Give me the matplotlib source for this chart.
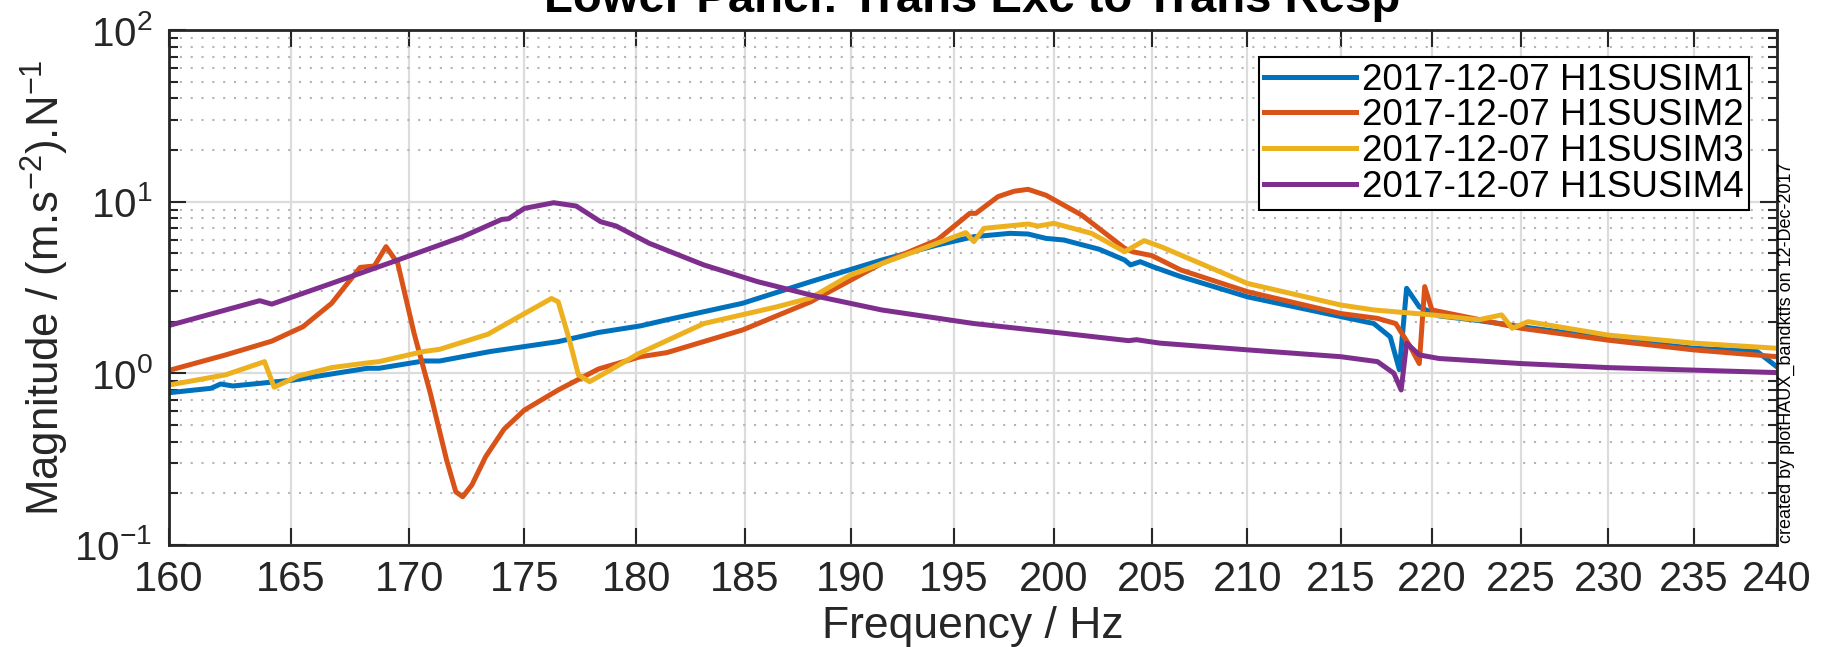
import numpy as np
import matplotlib
matplotlib.use("Agg")
import matplotlib.pyplot as plt
from matplotlib.ticker import FixedLocator, NullLocator, FuncFormatter, LogLocator

plt.rcParams['font.family'] = ['Liberation Sans', 'DejaVu Sans']
plt.rcParams['mathtext.fontset'] = 'custom'
plt.rcParams['mathtext.rm'] = 'Liberation Sans'
plt.rcParams['mathtext.it'] = 'Liberation Sans:italic'
plt.rcParams['mathtext.bf'] = 'Liberation Sans:bold'
plt.rcParams['mathtext.default'] = 'regular'

# frequency (Hz) / magnitude, one pair of lists per suspension
im1_freq = [160, 161.7, 162.1, 162.6, 165.1, 168.2, 168.7, 170.6, 171.3, 173.5, 176.5,
            178.3, 180.2, 181.4, 184.9, 188.1, 191.5, 194.2, 196.0, 197.8, 198.7, 199.6,
            200.5, 202.3, 203.6, 203.9, 204.4, 205.0, 206.5, 210, 215, 216.8, 217.7,
            218.2, 218.6, 219.3, 220.4, 222.6, 225, 230, 235, 238.8, 240]
im1_mag = [0.771, 0.818, 0.867, 0.844, 0.914, 1.07, 1.07, 1.18, 1.18, 1.34, 1.53,
           1.73, 1.89, 2.05, 2.56, 3.42, 4.57, 5.59, 6.25, 6.54, 6.48, 6.11,
           5.98, 5.28, 4.57, 4.28, 4.47, 4.2, 3.66, 2.79, 2.14, 1.95, 1.63,
           1.05, 3.13, 2.44, 2.16, 2.03, 1.87, 1.60, 1.40, 1.34, 1.09]

im2_freq = [160, 162.3, 164.2, 165.5, 166.7, 167.9, 168.5, 169.0, 169.5, 170.2, 170.9,
            171.6, 172.0, 172.3, 172.7, 173.3, 174.1, 175.0, 176.5, 178.3, 180.2, 181.4,
            184.9, 188.1, 191.5, 194.2, 195.8, 196.1, 197.2, 198.0, 198.7, 199.6, 201.4,
            203.6, 204.0, 205.0, 206.5, 210, 215, 217.0, 218.0, 218.8, 219.3, 219.6,
            220.0, 222.6, 225, 230, 235, 240]
im2_mag = [1.04, 1.28, 1.54, 1.87, 2.56, 4.14, 4.22, 5.47, 4.37, 1.71, 0.764,
           0.313, 0.204, 0.191, 0.224, 0.327, 0.472, 0.611, 0.80, 1.06, 1.25, 1.32,
           1.79, 2.61, 4.37, 5.98, 8.55, 8.55, 10.7, 11.5, 11.8, 10.9, 8.36,
           5.35, 5.11, 4.85, 4.0, 2.99, 2.23, 2.09, 1.95, 1.43, 1.14, 3.20,
           2.34, 2.06, 1.83, 1.56, 1.37, 1.25]

im3_freq = [160, 162.3, 163.9, 164.3, 165.3, 166.7, 168.2, 168.7, 170.6, 171.3, 173.4,
            174.9, 176.2, 176.5, 177.0, 177.4, 177.9, 178.8, 180.1, 183.1, 186.5, 188.1,
            190, 193.3, 195.6, 196.0, 196.5, 198.7, 199.2, 200.0, 201.9, 203.6, 204.6,
            205.5, 210, 215, 216.8, 220, 222.6, 223.9, 224.5, 225.4, 230, 235, 240]
im3_mag = [0.855, 0.98, 1.17, 0.83, 0.965, 1.08, 1.15, 1.17, 1.34, 1.38, 1.69,
           2.19, 2.73, 2.61, 1.56, 0.98, 0.894, 1.04, 1.30, 1.95, 2.44, 2.75,
           3.74, 5.23, 6.60, 5.85, 6.99, 7.41, 7.21, 7.48, 6.54, 5.11, 5.93,
           5.45, 3.34, 2.50, 2.34, 2.19, 2.05, 2.19, 1.83, 2.0, 1.67, 1.50, 1.40]

im4_freq = [160, 163.7, 164.2, 166.5, 169.1, 172.3, 174.0, 174.3, 175.0, 176.3, 177.3,
            178.4, 179.1, 180.6, 183.1, 185.6, 188.1, 191.5, 196.0, 200.5, 203.8, 204.2,
            205.4, 210, 215, 217.0, 217.9, 218.3, 218.6, 219.3, 220.4, 225, 230, 240]
im4_mag = [1.90, 2.65, 2.53, 3.27, 4.37, 6.25, 7.88, 7.95, 9.14, 9.86, 9.43,
           7.64, 7.21, 5.72, 4.28, 3.42, 2.86, 2.34, 1.95, 1.71, 1.55, 1.57,
           1.50, 1.37, 1.25, 1.17, 1.0, 0.80, 1.50, 1.28, 1.22, 1.14, 1.08, 1.01]

labels = ['2017-12-07 H1SUSIM1', '2017-12-07 H1SUSIM2',
          '2017-12-07 H1SUSIM3', '2017-12-07 H1SUSIM4']
colors = ['#0072BD', '#D95319', '#EDB120', '#7E2F8E']
xticks = list(range(160, 241, 5))

fig = plt.figure(figsize=(18.31, 6.47), dpi=100)
ax = fig.add_axes([169 / 1831, 1 - 545 / 647, 1608 / 1831, 515 / 647])

series = [(im1_freq, im1_mag), (im2_freq, im2_mag), (im3_freq, im3_mag), (im4_freq, im4_mag)]
for (f, m), c, lab in zip(series, colors, labels):
    ax.plot(f, m, color=c, lw=3.6, label=lab, solid_joinstyle='round')

ax.set_xscale('log')
ax.set_yscale('log')
ax.set_xlim(160, 240)
ax.set_ylim(0.1, 100)
ax.xaxis.set_major_locator(FixedLocator(xticks))
ax.xaxis.set_minor_locator(NullLocator())
ax.xaxis.set_major_formatter(FuncFormatter(lambda v, p: f'{v:.0f}'))
ax.yaxis.set_minor_locator(LogLocator(base=10, subs=np.arange(2, 10)))

ax.grid(True, which='major', color='#dcdcdc', lw=1.6)
ax.grid(True, which='minor', axis='y', color='#b4b4b4', lw=1.5, ls=(0, (1, 4.2)))
ax.set_axisbelow(True)

for s in ax.spines.values():
    s.set_linewidth(2)
    s.set_color('#262626')
ax.tick_params(which='both', direction='in', top=True, right=True, color='#262626',
               labelcolor='#262626')
ax.tick_params(which='major', length=12, width=1.5)
ax.tick_params(which='minor', length=6.5, width=1.5)
ax.tick_params(axis='x', pad=11, labelsize=30)
ax.tick_params(axis='y', pad=12, labelsize=29)

ax.set_xlabel('Frequency / Hz', fontsize=32, color='#262626', labelpad=4)
ax.set_ylabel(r'Magnitude / (m.s$^{-2}$).N$^{-1}$', fontsize=31.5, color='#262626')
ax.yaxis.set_label_coords(-0.061, 0.5)

leg = ax.legend(loc='upper right', bbox_to_anchor=(1749 / 1831, 1 - 57 / 647),
                bbox_transform=fig.transFigure, borderaxespad=0, fontsize=26.5,
                handlelength=2.5, handletextpad=0.15, labelspacing=0.02,
                borderpad=0.15, fancybox=False, framealpha=1)
leg.get_frame().set_edgecolor('black')
leg.get_frame().set_linewidth(1.5)

fig.text(972 / 1831, 1 - 12.5 / 647, 'Lower Panel: Trans Exc to Trans Resp',
         ha='center', va='baseline', fontsize=34, fontweight='bold')
fig.text(1786 / 1831, (647 - 543) / 647, 'created by plotHAUX_bandktfs on 12-Dec-2017',
         rotation=90, ha='center', va='bottom', fontsize=13)

fig.savefig('out.png', dpi=100)
